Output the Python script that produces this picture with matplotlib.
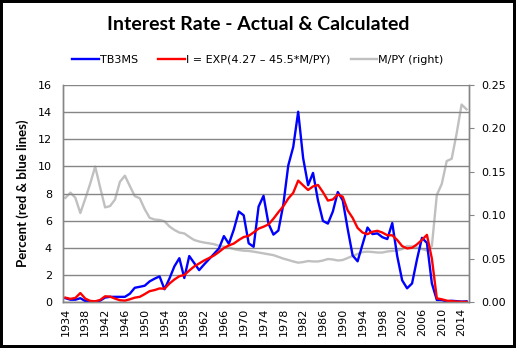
import matplotlib
matplotlib.use('Agg')
import matplotlib.pyplot as plt
from matplotlib.patches import Rectangle

years = list(range(1934, 2016))

# 3-month T-bill rate, annual average (percent)
tb3ms = [0.28, 0.17, 0.17, 0.28, 0.07, 0.05, 0.02, 0.10, 0.33, 0.38,
         0.38, 0.38, 0.38, 0.61, 1.05, 1.12, 1.20, 1.52, 1.72, 1.89,
         0.94, 1.73, 2.63, 3.23, 1.77, 3.39, 2.87, 2.35, 2.77, 3.16,
         3.55, 3.95, 4.86, 4.29, 5.34, 6.67, 6.39, 4.33, 4.07, 7.03,
         7.83, 5.78, 4.97, 5.27, 7.19, 10.07, 11.43, 14.03, 10.61, 8.61,
         9.52, 7.48, 5.98, 5.78, 6.67, 8.11, 7.49, 5.38, 3.43, 3.00,
         4.25, 5.49, 5.01, 5.06, 4.78, 4.64, 5.82, 3.39, 1.60, 1.01,
         1.37, 3.15, 4.73, 4.36, 1.37, 0.15, 0.14, 0.05, 0.09, 0.06,
         0.03, 0.05]

# fitted rate I = EXP(4.27 - 45.5*M/PY)
calc = [0.32, 0.23, 0.30, 0.66, 0.25, 0.08, 0.05, 0.15, 0.42, 0.40,
        0.25, 0.13, 0.10, 0.20, 0.32, 0.38, 0.58, 0.80, 0.88, 1.00,
        0.98, 1.36, 1.66, 1.90, 1.99, 2.32, 2.62, 2.84, 3.06, 3.24,
        3.43, 3.69, 3.98, 4.17, 4.31, 4.57, 4.79, 4.88, 5.13, 5.41,
        5.55, 5.72, 6.14, 6.62, 7.06, 7.63, 8.05, 8.95, 8.60, 8.26,
        8.52, 8.63, 8.10, 7.48, 7.56, 7.93, 7.76, 6.75, 6.20, 5.46,
        5.12, 5.00, 5.18, 5.25, 5.12, 4.92, 4.92, 4.57, 4.12, 3.95,
        4.00, 4.25, 4.58, 4.95, 3.20, 0.27, 0.20, 0.10, 0.06, 0.03,
        0.01, 0.01]

# money / nominal GDP ratio (right axis)
m_py = [0.120, 0.126, 0.120, 0.1025, 0.119, 0.1365, 0.156, 0.132, 0.109, 0.1105,
        0.118, 0.1385, 0.1455, 0.1336, 0.122, 0.1195, 0.107, 0.097, 0.095, 0.0945,
        0.093, 0.087, 0.083, 0.080, 0.079, 0.075, 0.0714, 0.0697, 0.0685, 0.0676,
        0.0666, 0.0647, 0.0638, 0.0628, 0.061, 0.0599, 0.0591, 0.0588, 0.058, 0.057,
        0.056, 0.055, 0.054, 0.052, 0.050, 0.0484, 0.0467, 0.0453, 0.046, 0.0472,
        0.0467, 0.0467, 0.0478, 0.0495, 0.049, 0.0478, 0.0484, 0.0507, 0.053, 0.0553,
        0.0576, 0.058, 0.0576, 0.057, 0.057, 0.0582, 0.0588, 0.0593, 0.061, 0.0645,
        0.064, 0.0628, 0.061, 0.0593, 0.0645, 0.1233, 0.136, 0.1624, 0.165, 0.194,
        0.2275, 0.222]

grid_col = '#868686'
lw = 1.7

fig = plt.figure(figsize=(5.16, 3.48), dpi=100)
ax = fig.add_axes([63 / 516, 1 - 302 / 348, 406 / 516, 217 / 348])
ax2 = ax.twinx()

x = list(range(len(years)))
l3, = ax2.plot(x, m_py, color='#C0C0C0', lw=lw, label='M/PY (right)')
l1, = ax.plot(x, tb3ms, color='#0000FF', lw=lw, label='TB3MS')
l2, = ax.plot(x, calc, color='#FF0000', lw=lw, label='I = EXP(4.27 \u2013 45.5*M/PY)')
ax.set_zorder(ax2.get_zorder() + 1)
ax.patch.set_visible(False)

ax.set_xlim(-0.5, len(years) - 0.5)
ax.set_ylim(0, 16)
ax.set_yticks(range(0, 17, 2))
ax2.set_ylim(0, 0.25)
ax2.set_yticks([0, 0.05, 0.10, 0.15, 0.20, 0.25])
ax2.set_yticklabels(['%.2f' % v for v in [0, 0.05, 0.10, 0.15, 0.20, 0.25]])

ticks = x[::4]
ax.set_xticks(ticks)
ax.set_xticklabels([str(years[i]) for i in ticks], rotation=90)

ax.grid(axis='y', color=grid_col, lw=1.0)
ax.set_axisbelow(True)
for a in (ax, ax2):
    a.spines['top'].set_visible(False)
    for s in ('left', 'right', 'bottom'):
        a.spines[s].set_color(grid_col)
        a.spines[s].set_linewidth(1.0)
ax.tick_params(axis='y', length=0, pad=8, labelsize=8)
ax.tick_params(axis='x', length=0, pad=4, labelsize=8)
ax2.tick_params(axis='y', length=3.5, color=grid_col, pad=5, labelsize=8)

ax.set_ylabel('Percent (red & blue lines)', fontfamily='Lato', fontweight='bold',
              fontsize=9.5, labelpad=6)

fig.text(0.5, 1 - 25 / 348, 'Interest Rate - Actual & Calculated', ha='center',
         va='center', fontfamily='Lato', fontweight='bold', fontsize=14)

fig.legend(handles=[l1, l2, l3], loc='center', bbox_to_anchor=(0.5, 1 - 60 / 348),
           ncol=3, frameon=False, fontsize=8, handlelength=2.4, handletextpad=0.1,
           columnspacing=1.8)

# black frame round the whole chart
fig.patches.append(Rectangle((0, 0), 1, 1, transform=fig.transFigure, fill=False,
                             edgecolor='black', lw=4.3, zorder=10))

fig.savefig('out.png', dpi=100)
